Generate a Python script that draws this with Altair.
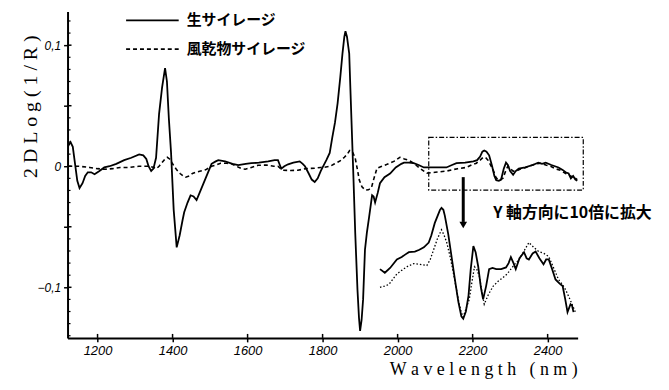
import altair as alt
import pandas as pd

# ---- data (wavelength nm, 2DLog(1/R)) ----
raw_main = [
    (1122, 0.017), (1128, 0.020), (1134, 0.016), (1140, 0.002), (1146, -0.012), (1152, -0.018),
    (1160, -0.014), (1167, -0.008), (1174, -0.005), (1183, -0.005), (1192, -0.0066), (1205, -0.004),
    (1218, -0.001), (1232, 0.000), (1250, 0.002), (1271, 0.005), (1290, 0.007), (1311, 0.0098),
    (1322, 0.009), (1330, 0.006), (1336, 0.000), (1343, -0.004), (1349, -0.002), (1356, 0.007),
    (1364, 0.043), (1372, 0.065), (1380, 0.081), (1385, 0.070), (1390, 0.040), (1396, 0.011),
    (1403, -0.036), (1411, -0.067), (1419, -0.057), (1427, -0.044), (1431, -0.038), (1440, -0.030),
    (1448, -0.024), (1456, -0.025), (1464, -0.028), (1472, -0.022), (1480, -0.016), (1488, -0.010),
    (1496, -0.004), (1504, 0.002), (1515, 0.004), (1522, 0.005), (1540, 0.004), (1560, 0.002),
    (1575, 0.001), (1595, 0.002), (1610, 0.0025), (1630, 0.003), (1655, 0.004), (1672, 0.005),
    (1681, 0.005), (1686, 0.001), (1690, -0.002), (1698, 0.000), (1708, 0.0016), (1722, 0.003),
    (1739, 0.004), (1747, 0.002), (1753, 0.000), (1763, -0.006), (1771, -0.011), (1779, -0.013),
    (1787, -0.010), (1795, -0.004), (1800, -0.001), (1810, 0.005), (1819, 0.011), (1826, 0.024),
    (1833, 0.036), (1840, 0.052), (1847, 0.073), (1853, 0.093), (1858, 0.107), (1861, 0.1115),
    (1865, 0.107), (1871, 0.093), (1874, 0.065), (1877, 0.038), (1882, -0.007), (1887, -0.055),
    (1893, -0.102), (1897, -0.125), (1900, -0.136), (1904, -0.127), (1908, -0.110), (1913, -0.069),
    (1918, -0.055), (1924, -0.042), (1932, -0.024), (1936, -0.025), (1940, -0.030), (1947, -0.022),
    (1953, -0.014), (1965, -0.009), (1980, -0.006), (1995, -0.001), (2010, 0.002), (2017, 0.003),
    (2030, 0.003), (2043, 0.0025), (2056, 0.001), (2070, -0.001), (2090, -0.001), (2110, -0.001),
    (2130, -0.001), (2145, 0.001), (2157, 0.0025), (2180, 0.003), (2202, 0.004), (2212, 0.005),
    (2220, 0.008), (2226, 0.012), (2231, 0.013), (2237, 0.012), (2244, 0.009), (2252, 0.000),
    (2258, -0.008), (2263, -0.0115), (2270, -0.012), (2276, -0.011), (2283, -0.002), (2289, 0.003),
    (2294, 0.001), (2300, -0.004), (2308, -0.007), (2315, -0.004), (2323, -0.002), (2340, -0.001),
    (2360, 0.001), (2375, 0.003), (2385, 0.002), (2395, 0.003), (2410, 0.001), (2429, -0.001),
    (2440, -0.003), (2448, -0.005), (2456, -0.006), (2462, -0.010), (2468, -0.008), (2474, -0.011),
    (2479, -0.012),
]

dry_main = [
    (1122, 0.000), (1150, 0.000), (1179, -0.001), (1200, -0.002), (1218, -0.0025), (1240, -0.002),
    (1260, -0.001), (1285, -0.001), (1310, 0.000), (1337, 0.000), (1350, -0.001), (1357, -0.002),
    (1364, 0.000), (1372, 0.003), (1380, 0.006), (1386, 0.0074), (1392, 0.006), (1400, 0.002),
    (1411, -0.003), (1420, -0.006), (1428, -0.008), (1435, -0.009), (1445, -0.008), (1453, -0.006),
    (1462, -0.005), (1475, -0.004), (1488, -0.003), (1504, 0.000), (1515, 0.001), (1528, 0.0025),
    (1545, 0.0025), (1557, 0.002), (1570, 0.000), (1584, -0.002), (1594, -0.0025), (1610, -0.001),
    (1628, 0.0008), (1650, 0.001), (1670, 0.000), (1681, 0.000), (1688, -0.002), (1694, -0.0033),
    (1715, -0.0035), (1734, -0.0033), (1755, -0.002), (1779, -0.0016), (1795, -0.001), (1805, -0.0008),
    (1820, 0.000), (1832, 0.002), (1840, 0.0033), (1850, 0.005), (1858, 0.0074), (1866, 0.010),
    (1872, 0.013), (1876, 0.013), (1881, 0.011), (1887, 0.0066), (1893, -0.003), (1898, -0.0115),
    (1905, -0.017), (1914, -0.0197), (1922, -0.0195), (1930, -0.018), (1937, -0.010), (1945, -0.0016),
    (1958, 0.000), (1972, 0.0016), (1990, 0.004), (2006, 0.0074), (2018, 0.006), (2030, 0.005),
    (2045, 0.002), (2059, -0.0016), (2070, -0.004), (2078, -0.0057), (2100, -0.005), (2130, -0.004),
    (2160, -0.002), (2183, -0.001), (2197, 0.001), (2210, 0.0025), (2220, 0.005), (2228, 0.0074),
    (2235, 0.007), (2241, 0.005), (2248, 0.001), (2255, -0.0033), (2262, -0.009), (2268, -0.0115),
    (2275, -0.011), (2281, -0.0098), (2288, -0.004), (2294, 0.000), (2300, -0.002), (2308, -0.004),
    (2315, -0.004), (2330, -0.002), (2342, -0.001), (2360, 0.001), (2372, 0.002), (2382, 0.0025),
    (2395, 0.001), (2408, 0.000), (2420, -0.002), (2434, -0.0033), (2448, -0.006), (2461, -0.008),
    (2470, -0.009), (2479, -0.011),
]

# magnified (x10) insets, plotted in the same coordinates as printed
raw_zoom = [
    (1953, -0.085), (1966, -0.088), (1980, -0.084), (1998, -0.077), (2011, -0.075), (2020, -0.073),
    (2030, -0.071), (2046, -0.0705), (2058, -0.069), (2070, -0.067), (2083, -0.063), (2090, -0.057),
    (2099, -0.047), (2108, -0.040), (2113, -0.036), (2117, -0.0344), (2122, -0.036), (2126, -0.041),
    (2135, -0.056), (2144, -0.075), (2153, -0.094), (2162, -0.112), (2170, -0.124), (2175, -0.126),
    (2182, -0.120), (2189, -0.107), (2195, -0.085), (2202, -0.066), (2208, -0.071), (2215, -0.083),
    (2222, -0.100), (2228, -0.110), (2236, -0.099), (2244, -0.085), (2253, -0.084), (2263, -0.085),
    (2276, -0.085), (2289, -0.0836), (2296, -0.080), (2302, -0.075), (2309, -0.080), (2315, -0.085),
    (2325, -0.076), (2337, -0.071), (2344, -0.076), (2350, -0.077), (2360, -0.072), (2368, -0.0705),
    (2378, -0.076), (2389, -0.081), (2396, -0.077), (2403, -0.077), (2412, -0.085), (2421, -0.0935),
    (2432, -0.097), (2440, -0.099), (2447, -0.110), (2453, -0.1205), (2461, -0.114), (2465, -0.115),
    (2469, -0.1205),
]

dry_zoom = [
    (1953, -0.100), (1965, -0.099), (1977, -0.0976), (1988, -0.093), (1998, -0.089), (2011, -0.086),
    (2025, -0.083), (2043, -0.0804), (2060, -0.081), (2078, -0.082), (2087, -0.077), (2096, -0.069),
    (2106, -0.060), (2117, -0.0525), (2124, -0.057), (2131, -0.063), (2141, -0.076), (2152, -0.0935),
    (2163, -0.112), (2170, -0.121), (2175, -0.1246), (2183, -0.117), (2191, -0.110), (2198, -0.096),
    (2205, -0.083), (2211, -0.085), (2218, -0.091), (2225, -0.104), (2231, -0.114), (2242, -0.106),
    (2255, -0.099), (2268, -0.095), (2281, -0.092), (2292, -0.089), (2302, -0.085), (2312, -0.081),
    (2324, -0.077), (2337, -0.070), (2350, -0.063), (2363, -0.067), (2376, -0.0705), (2390, -0.072),
    (2403, -0.0746), (2416, -0.084), (2429, -0.0935), (2440, -0.098), (2448, -0.102), (2461, -0.111),
    (2474, -0.1205),
]

x_ticks = [1200, 1400, 1600, 1800, 2000, 2200, 2400]
y_major = [-0.1, -0.05, 0, 0.05, 0.1]
y_minor = [-0.14, -0.13, -0.12, -0.11, -0.09, -0.08, -0.07, -0.06, -0.04, -0.03, -0.02, -0.01,
           0.01, 0.02, 0.03, 0.04, 0.06, 0.07, 0.08, 0.09, 0.11, 0.12]

legend_labels = ["生サイレージ", "風乾物サイレージ"]
box_x = [2083, 2495]
box_y = [-0.0197, 0.0238]
arrow_x = [2175]
arrow_y = [-0.009, -0.046]
arrow_tip = [-0.0485]
note_pos = [2255, -0.0385]
note_text = "Y 軸方向に10倍に拡大"
x_title = "Wavelength (nm)"
y_title = "2DLog(1/R)"

# ---- chart ----
W, H = 514, 329
xs = alt.Scale(domain=[1120, 2480], nice=False, zero=False)
ys = alt.Scale(domain=[-0.1418, 0.1279], nice=False, zero=False)

def df(pairs):
    return pd.DataFrame(pairs, columns=["nm", "v"])

x_axis = alt.Axis(values=x_ticks, format="d", title=None, grid=False,
                  labelFont="Liberation Sans", labelFontStyle="italic", labelFontSize=13,
                  labelColor="black", labelPadding=3, tickColor="black", tickSize=4,
                  tickWidth=1.5, domainColor="black", domainWidth=2)
y_axis = alt.Axis(values=y_major, title=None, grid=False,
                  labelExpr="abs(datum.value) == 0.05 ? '' : replace(format(datum.value, '.1~f'), '.', ',')",
                  labelFont="Liberation Sans", labelFontStyle="italic", labelFontSize=12,
                  labelColor="black", labelPadding=3, tickColor="black", tickSize=4,
                  tickWidth=1.5, domainColor="black", domainWidth=2)

def X(field):
    return alt.X(field, scale=xs, axis=x_axis, title=None)

def Y(field):
    return alt.Y(field, scale=ys, axis=y_axis, title=None)

raw_line = alt.Chart(df(raw_main)).mark_line(color="black", strokeWidth=1.8).encode(
    x=X("nm:Q"), y=Y("v:Q"))
dry_line = alt.Chart(df(dry_main)).mark_line(color="black", strokeWidth=1.6, strokeDash=[4, 3]).encode(
    x=X("nm:Q"), y=Y("v:Q"))
raw_z = alt.Chart(df(raw_zoom)).mark_line(color="black", strokeWidth=1.8).encode(
    x=X("nm:Q"), y=Y("v:Q"))
dry_z = alt.Chart(df(dry_zoom)).mark_line(color="black", strokeWidth=1.3, strokeDash=[1.5, 2]).encode(
    x=X("nm:Q"), y=Y("v:Q"))

box = alt.Chart(pd.DataFrame({"nm": [box_x[0]], "nm2": [box_x[1]], "v": [box_y[0]], "v2": [box_y[1]]})).mark_rect(
    fill=None, stroke="black", strokeWidth=1.2, strokeDash=[5, 2, 1.5, 2]).encode(
    x=X("nm:Q"), x2="nm2:Q", y=Y("v:Q"), y2="v2:Q")

arrow = alt.Chart(pd.DataFrame({"nm": arrow_x, "v": [arrow_y[0]], "v2": [arrow_y[1]]})).mark_rule(
    color="black", strokeWidth=3).encode(
    x=X("nm:Q"), y=Y("v:Q"), y2="v2:Q")
arrow_head = alt.Chart(pd.DataFrame({"nm": arrow_x, "v": arrow_tip})).mark_point(
    shape="triangle-down", filled=True, color="black", size=60, opacity=1).encode(
    x=X("nm:Q"), y=Y("v:Q"))
note = alt.Chart(pd.DataFrame({"nm": [note_pos[0]], "v": [note_pos[1]], "t": [note_text]})).mark_text(
    align="left", baseline="middle", font="Noto Sans CJK JP", fontWeight="bold", fontSize=16,
    color="black").encode(x=X("nm:Q"), y=Y("v:Q"), text="t:N")

# inward halves of the crossing ticks, and minor ticks
x_in = alt.Chart(pd.DataFrame({"nm": x_ticks})).mark_rule(color="black", strokeWidth=1.5).encode(
    x=X("nm:Q"), y=alt.value(H - 4), y2=alt.value(H))
y_in = alt.Chart(pd.DataFrame({"v": y_major})).mark_rule(color="black", strokeWidth=1.5).encode(
    y=Y("v:Q"), x=alt.value(0), x2=alt.value(4))
y_min = alt.Chart(pd.DataFrame({"v": y_minor})).mark_rule(color="black", strokeWidth=1.2).encode(
    y=Y("v:Q"), x=alt.value(0), x2=alt.value(3))

# manual legend
leg_solid = alt.Chart(pd.DataFrame({"a": [0]})).mark_rule(color="black", strokeWidth=1.8).encode(
    x=alt.value(59), x2=alt.value(112), y=alt.value(9))
leg_dash = alt.Chart(pd.DataFrame({"a": [0]})).mark_rule(color="black", strokeWidth=1.6, strokeDash=[4, 3]).encode(
    x=alt.value(59), x2=alt.value(112), y=alt.value(38))
leg_t1 = alt.Chart(pd.DataFrame({"t": [legend_labels[0]]})).mark_text(
    align="left", baseline="middle", font="Noto Sans CJK JP", fontWeight="bold", fontSize=15,
    color="black").encode(text="t:N", x=alt.value(120), y=alt.value(9))
leg_t2 = alt.Chart(pd.DataFrame({"t": [legend_labels[1]]})).mark_text(
    align="left", baseline="middle", font="Noto Sans CJK JP", fontWeight="bold", fontSize=15,
    color="black").encode(text="t:N", x=alt.value(120), y=alt.value(38))

# axis titles with wide letter spacing
NB = "\u00a0"
xt = NB.join(list(x_title)).replace(NB + " " + NB, NB * 3)
yt = NB.join(list(y_title))
x_ttl = alt.Chart(pd.DataFrame({"t": [xt]})).mark_text(
    align="right", baseline="middle", font="Liberation Serif", fontSize=18, color="black").encode(
    text="t:N", x=alt.value(W), y=alt.value(H + 32))
y_ttl = alt.Chart(pd.DataFrame({"t": [yt]})).mark_text(
    align="center", baseline="middle", font="Liberation Serif", fontSize=20, angle=270, color="black").encode(
    text="t:N", x=alt.value(-37), y=alt.value(96))

chart = alt.layer(
    raw_line, dry_line, raw_z, dry_z, box, arrow, arrow_head, note,
    x_in, y_in, y_min, leg_solid, leg_dash, leg_t1, leg_t2, x_ttl, y_ttl,
).properties(
    width=W, height=H,
    autosize=alt.AutoSizeParams(type="none"),
    padding={"left": 60, "top": 2, "right": 84, "bottom": 43},
    background="white",
).configure_view(stroke=None)

chart.save("out.html", embed_options={"renderer": "svg", "actions": False})
